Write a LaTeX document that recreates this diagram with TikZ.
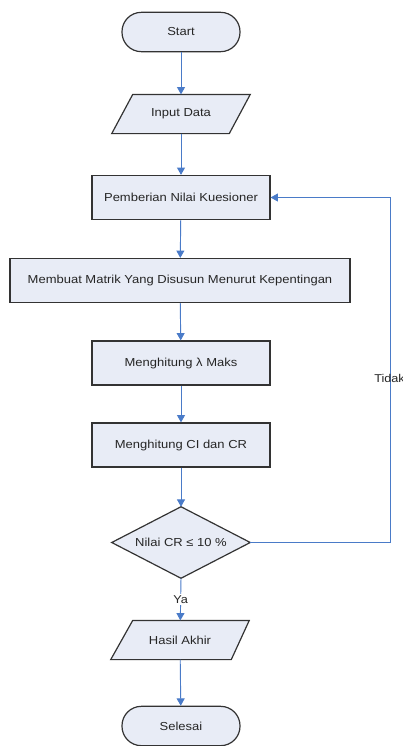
\documentclass[tikz,border=0pt]{standalone}
\usepackage{fontspec}
\setmainfont{Liberation Sans}[FakeStretch=1.12]
\usetikzlibrary{arrows.meta,calc,backgrounds}
\definecolor{boxfill}{HTML}{E8ECF6}
\definecolor{linkblue}{HTML}{4A7BC8}
\definecolor{edgecol}{HTML}{333333}
\begin{document}
\begin{tikzpicture}[x=0.75pt,y=-0.75pt,
 every node/.style={font=\fontsize{8.7}{10}\selectfont, text=black!85},
 shapeline/.style={draw=edgecol, line width=0.9pt, fill=boxfill},
 proc/.style={shapeline, minimum height=33pt, inner sep=0pt},
 term/.style={shapeline, rounded corners=14.5pt, minimum width=88.5pt, minimum height=29.5pt},
 io/.style={minimum width=103.5pt, minimum height=29pt, inner sep=0pt},
 flow/.style={draw=linkblue, line width=0.7pt, -{Triangle[width=6pt,length=5.5pt]}},
 lbl/.style={font=\fontsize{8.5}{10}\selectfont}]
\useasboundingbox (0,0) rectangle (403,746);

\node[term] (start) at (181,32) {Start};
\node[io] (in) at (181,114) {Input Data};
\node[proc, minimum width=133.5pt] (pem) at (181,197.5) {Pemberian Nilai Kuesioner};
\node[proc, minimum width=255pt] (mem) at (180,280.5) {Membuat Matrik Yang Disusun Menurut Kepentingan};
\node[proc, minimum width=133.5pt] (mh) at (181,363) {Menghitung λ Maks};
\node[proc, minimum width=133.5pt] (ci) at (181,445) {Menghitung CI dan CR};
\node[minimum width=103.5pt, minimum height=53.25pt, inner sep=0pt] (dec) at (181,542.5) {Nilai CR ≤ 10 \%};
\node[io] (has) at (180,640) {Hasil Akhir};
\node[term] (sel) at (181,726) {Selesai};

\begin{scope}[on background layer]
\draw[shapeline] ($(in.north west)+(21,0)$) -- (in.north east) -- ($(in.south east)+(-21,0)$) -- (in.south west) -- cycle;
\draw[shapeline] ($(has.north west)+(22,0)$) -- (has.north east) -- ($(has.south east)+(-18,0)$) -- (has.south west) -- cycle;
\draw[shapeline] (dec.north) -- (dec.east) -- (dec.south) -- (dec.west) -- cycle;
\end{scope}

\draw[flow] (start) -- (in);
\draw[flow] (in) -- (pem);
\draw[flow] (pem) -- (mem);
\draw[flow] (mem) -- (mh);
\draw[flow] (mh) -- (ci);
\draw[flow] (ci) -- (dec.north);
\draw[flow] (dec.south) -- node[lbl, fill=white, inner sep=1pt] (ya) {Ya} (has);
\draw[flow] (has) -- (sel);
\coordinate (corner) at (390,197.5);
\draw[flow] (dec.east) -- (dec.east -| corner) -- (corner) -- (pem.east);
\node[lbl, anchor=west, inner sep=0pt] (tidak) at (374,378) {Tidak};
\end{tikzpicture}
\end{document}
